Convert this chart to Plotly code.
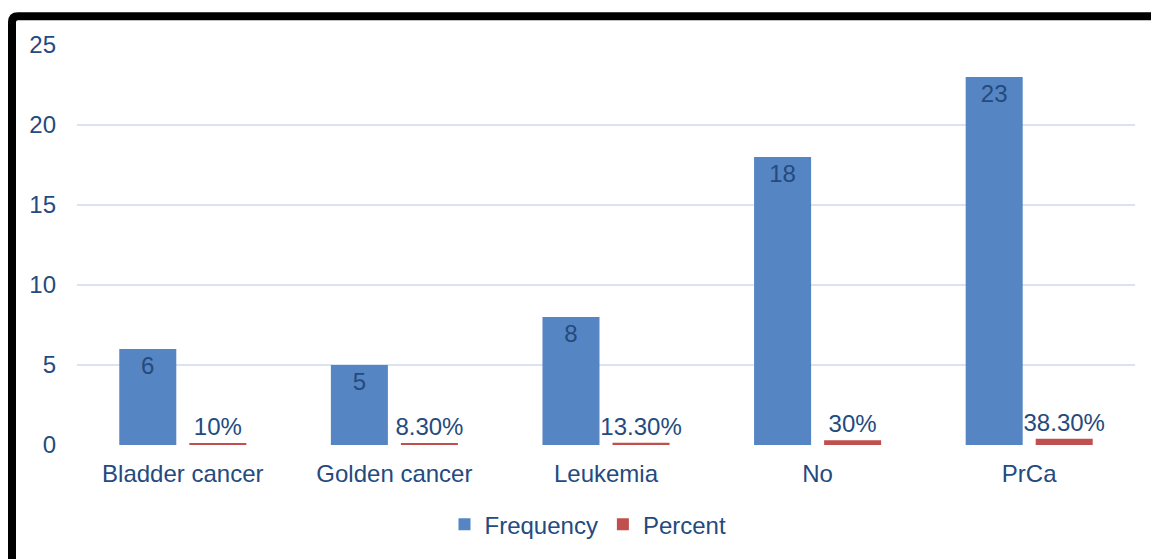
import plotly.graph_objects as go

categories = ["Bladder cancer", "Golden cancer", "Leukemia", "No", "PrCa"]
frequency = [6, 5, 8, 18, 23]
percent = [0.10, 0.083, 0.133, 0.30, 0.383]
percent_labels = ["10%", "8.30%", "13.30%", "30%", "38.30%"]
y_ticks = [0, 5, 10, 15, 20, 25]

TXT = "#244A7E"
FONT = "Liberation Sans, Arial, sans-serif"
FS = 24

fig = go.Figure()
fig.add_trace(go.Bar(
    name="Frequency", x=categories, y=frequency,
    marker=dict(color="#5585C3", line=dict(width=0)),
    text=[str(v) for v in frequency], textposition="inside", insidetextanchor="end",
    textfont=dict(color=TXT, size=FS, family=FONT), constraintext="none",
))
fig.add_trace(go.Bar(
    name="Percent", x=categories, y=percent,
    marker=dict(color="#C0504D", line=dict(width=0)),
    text=percent_labels, textposition="outside",
    textfont=dict(color=TXT, size=FS, family=FONT), constraintext="none", cliponaxis=False,
))

W, H = 1151, 559
L, R, T, B = 77, 16, 45, 112
pw, ph = W - L - R, H - T - B

def px(x):
    return (x - L) / pw

def py(y):
    return (H - B - y) / ph

fig.add_shape(type="path", xref="paper", yref="paper",
              path=f"M {px(12)},{py(600)} L {px(12)},{py(22)} Q {px(12)},{py(16)} {px(18)},{py(16)} L {px(1200)},{py(16)}",
              line=dict(color="black", width=8))

fig.update_layout(
    width=W, height=H,
    margin=dict(l=L, r=R, t=T, b=B),
    paper_bgcolor="white", plot_bgcolor="white",
    barmode="group", bargap=0.338, bargroupgap=0.186,
    font=dict(family=FONT, size=FS, color=TXT),
    showlegend=True,
    legend=dict(orientation="h", x=px(588), xanchor="center", y=py(527), yanchor="middle",
                font=dict(size=FS, color=TXT), itemwidth=30, traceorder="normal"),
    xaxis=dict(showgrid=False, zeroline=False, showline=False, ticks="",
               tickfont=dict(size=FS, color=TXT), ticklabelstandoff=12),
    yaxis=dict(range=[0, 25], tickvals=y_ticks, showgrid=True, gridcolor="#D9E3F2", gridwidth=2,
               zeroline=False, showline=False, ticks="", tickfont=dict(size=FS, color=TXT), ticklabelstandoff=20),
)

fig.write_html("out.html")
